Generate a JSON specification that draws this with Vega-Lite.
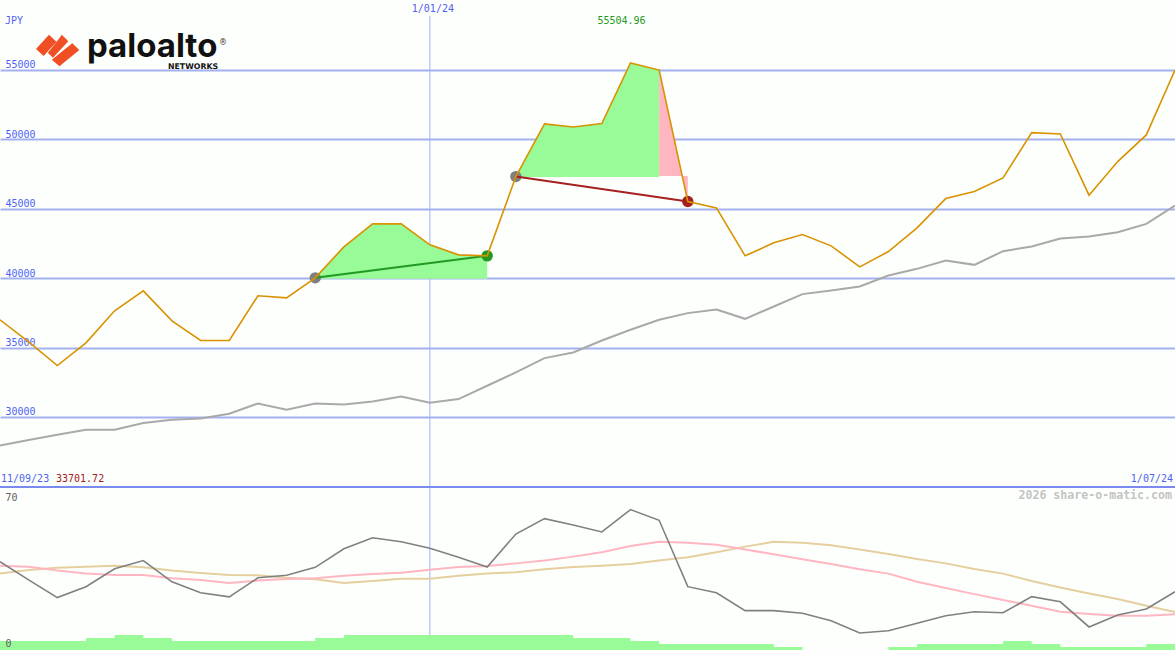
{
  "$schema": "https://vega.github.io/schema/vega-lite/v6.json",
  "description": "Palo Alto Networks weekly price in JPY with trades, and an oscillator panel below",
  "background": "#fdfffd",
  "padding": {"left": -4, "top": 0, "right": 0, "bottom": 0},
  "spacing": 0,
  "bounds": "flush",
  "datasets": {
    "weeks": [
      {"date":"2023-09-18","price":37000,"ma":27950,"osc":37.9,"fast":36.2,"slow":32.8,"vol":3.9},
      {"date":"2023-09-25","price":35416,"ma":28338,"osc":30.1,"fast":35.8,"slow":34.4,"vol":3.9},
      {"date":"2023-10-02","price":33702,"ma":28720,"osc":22.5,"fast":34.1,"slow":35.3,"vol":3.9},
      {"date":"2023-10-09","price":35344,"ma":29080,"osc":27.2,"fast":32.9,"slow":35.8,"vol":5.2},
      {"date":"2023-10-16","price":37648,"ma":29080,"osc":34.9,"fast":32.2,"slow":36.2,"vol":6.4},
      {"date":"2023-10-23","price":39088,"ma":29562,"osc":38.4,"fast":32.2,"slow":35.5,"vol":5.2},
      {"date":"2023-10-30","price":36928,"ma":29800,"osc":29.3,"fast":30.8,"slow":34.1,"vol":3.9},
      {"date":"2023-11-06","price":35510,"ma":29894,"osc":24.6,"fast":30.1,"slow":33.1,"vol":3.9},
      {"date":"2023-11-13","price":35510,"ma":30232,"osc":22.8,"fast":28.8,"slow":32.2,"vol":3.9},
      {"date":"2023-11-20","price":38728,"ma":30974,"osc":31.0,"fast":29.8,"slow":32.1,"vol":3.9},
      {"date":"2023-11-27","price":38584,"ma":30520,"osc":32.1,"fast":30.5,"slow":31.0,"vol":3.9},
      {"date":"2023-12-04","price":40024,"ma":30974,"osc":35.5,"fast":30.8,"slow":30.4,"vol":5.2},
      {"date":"2023-12-11","price":42256,"ma":30902,"osc":43.5,"fast":31.9,"slow":28.8,"vol":6.4},
      {"date":"2023-12-18","price":43912,"ma":31118,"osc":48.2,"fast":32.6,"slow":29.6,"vol":6.4},
      {"date":"2023-12-25","price":43912,"ma":31478,"osc":46.5,"fast":33.2,"slow":30.6,"vol":6.4},
      {"date":"2024-01-01","price":42400,"ma":31024,"osc":43.7,"fast":34.5,"slow":30.6,"vol":6.4},
      {"date":"2024-01-08","price":41680,"ma":31290,"osc":39.8,"fast":35.6,"slow":31.9,"vol":6.4},
      {"date":"2024-01-15","price":41608,"ma":32248,"osc":35.6,"fast":36.1,"slow":32.8,"vol":6.4},
      {"date":"2024-01-22","price":47318,"ma":33206,"osc":49.8,"fast":37.2,"slow":33.4,"vol":6.4},
      {"date":"2024-01-29","price":51112,"ma":34242,"osc":56.4,"fast":38.4,"slow":34.7,"vol":6.4},
      {"date":"2024-02-05","price":50896,"ma":34646,"osc":53.7,"fast":40.1,"slow":35.6,"vol":5.2},
      {"date":"2024-02-12","price":51134,"ma":35510,"osc":50.7,"fast":42.0,"slow":36.2,"vol":5.2},
      {"date":"2024-02-19","price":55505,"ma":36280,"osc":60.3,"fast":44.7,"slow":36.9,"vol":3.9},
      {"date":"2024-02-26","price":54990,"ma":37000,"osc":55.7,"fast":46.5,"slow":38.4,"vol":2.6},
      {"date":"2024-03-04","price":45518,"ma":37482,"osc":27.2,"fast":46.1,"slow":39.8,"vol":2.6},
      {"date":"2024-03-11","price":45064,"ma":37742,"osc":24.6,"fast":45.2,"slow":42.0,"vol":2.6},
      {"date":"2024-03-18","price":41608,"ma":37072,"osc":16.9,"fast":43.2,"slow":44.4,"vol":2.6},
      {"date":"2024-03-25","price":42544,"ma":37958,"osc":16.9,"fast":41.1,"slow":46.5,"vol":1.3},
      {"date":"2024-04-01","price":43142,"ma":38850,"osc":15.8,"fast":39.0,"slow":46.1,"vol":0},
      {"date":"2024-04-08","price":42328,"ma":39110,"osc":12.6,"fast":36.9,"slow":45.0,"vol":0},
      {"date":"2024-04-15","price":40816,"ma":39398,"osc":7.3,"fast":34.7,"slow":43.2,"vol":0},
      {"date":"2024-04-22","price":41918,"ma":40190,"osc":8.3,"fast":32.8,"slow":41.2,"vol":1.3},
      {"date":"2024-04-29","price":43624,"ma":40672,"osc":11.5,"fast":29.3,"slow":39.1,"vol":2.6},
      {"date":"2024-05-06","price":45734,"ma":41270,"osc":14.7,"fast":26.6,"slow":37.2,"vol":2.6},
      {"date":"2024-05-13","price":46238,"ma":40960,"osc":16.4,"fast":24.0,"slow":34.8,"vol":2.6},
      {"date":"2024-05-20","price":47224,"ma":41946,"osc":16.0,"fast":21.5,"slow":32.8,"vol":3.9},
      {"date":"2024-05-27","price":50486,"ma":42278,"osc":22.9,"fast":19.0,"slow":29.6,"vol":2.6},
      {"date":"2024-06-03","price":50392,"ma":42854,"osc":20.7,"fast":16.4,"slow":26.8,"vol":1.3},
      {"date":"2024-06-10","price":45978,"ma":42998,"osc":9.9,"fast":15.5,"slow":24.3,"vol":1.3},
      {"date":"2024-06-17","price":48398,"ma":43314,"osc":15.0,"fast":14.7,"slow":21.9,"vol":1.3},
      {"date":"2024-06-24","price":50320,"ma":43912,"osc":17.6,"fast":14.7,"slow":19.0,"vol":2.6},
      {"date":"2024-07-01","price":55000,"ma":45230,"osc":25.0,"fast":15.3,"slow":16.3,"vol":2.6}
    ],
    "gains": [
      {"trade":1,"date":"2023-12-04","price":40024,"base":39960},
      {"trade":1,"date":"2023-12-11","price":42256,"base":39960},
      {"trade":1,"date":"2023-12-18","price":43912,"base":39960},
      {"trade":1,"date":"2023-12-25","price":43912,"base":39960},
      {"trade":1,"date":"2024-01-01","price":42400,"base":39960},
      {"trade":1,"date":"2024-01-08","price":41680,"base":39960},
      {"trade":1,"date":"2024-01-15","price":41608,"base":39960},
      {"trade":2,"date":"2024-01-22","price":47318,"base":47290},
      {"trade":2,"date":"2024-01-29","price":51112,"base":47290},
      {"trade":2,"date":"2024-02-05","price":50896,"base":47290},
      {"trade":2,"date":"2024-02-12","price":51134,"base":47290},
      {"trade":2,"date":"2024-02-19","price":55505,"base":47290},
      {"trade":2,"date":"2024-02-26","price":54990,"base":47290}
    ],
    "losses": [
      {"date":"2024-02-26","price":54990,"base":47360},
      {"date":"2024-03-04","price":45518,"base":47360}
    ],
    "trades": [
      {"trade":"up","date":"2023-12-04","price":40024},
      {"trade":"up","date":"2024-01-15","price":41608},
      {"trade":"down","date":"2024-01-22","price":47318},
      {"trade":"down","date":"2024-03-04","price":45518}
    ]
  },
  "vconcat": [
    {
      "width": 1175,
      "height": 487,
      "encoding": {
        "x": {
          "field": "date",
          "type": "temporal",
          "scale": {"type": "utc", "domain": ["2023-09-18", "2024-07-01"]},
          "axis": null
        }
      },
      "layer": [
        {
          "data": {"values": [{"date": "2024-01-01", "value": 58888, "low": 24955}]},
          "mark": {"type": "rule", "color": "#a3b1f0", "strokeWidth": 1},
          "encoding": {
            "y": {
              "field": "value",
              "type": "quantitative",
              "title": null,
              "scale": {"domain": [24955, 60040], "nice": false, "zero": false},
              "axis": {
                "values": [30000, 35000, 40000, 45000, 50000, 55000],
                "format": "d",
                "grid": true,
                "gridColor": "#a3b1f0",
                "gridWidth": 2,
                "gridOpacity": 1,
                "labelColor": "#4f62f2",
                "labelBaseline": "alphabetic",
                "labelOffset": -2
              }
            },
            "y2": {"field": "low"}
          }
        },
        {
          "data": {"name": "gains"},
          "mark": {"type": "area", "color": "#98fb98", "opacity": 1},
          "encoding": {
            "detail": {"field": "trade"},
            "y": {"field": "price", "type": "quantitative", "title": null},
            "y2": {"field": "base"}
          }
        },
        {
          "data": {"name": "losses"},
          "mark": {"type": "area", "color": "#ffb6c1", "opacity": 1},
          "encoding": {
            "y": {"field": "price", "type": "quantitative", "title": null},
            "y2": {"field": "base"}
          }
        },
        {
          "data": {"name": "weeks"},
          "mark": {"type": "line", "color": "#a9a9a9", "strokeWidth": 2},
          "encoding": {"y": {"field": "ma", "type": "quantitative", "title": null}}
        },
        {
          "data": {"values": [
            {"date": "2023-12-04", "price": 40024},
            {"date": "2024-01-22", "price": 47318}
          ]},
          "mark": {"type": "point", "filled": true, "size": 130, "color": "#808080", "opacity": 1},
          "encoding": {"y": {"field": "price", "type": "quantitative", "title": null}}
        },
        {
          "data": {"values": [{"date": "2024-01-15", "price": 41608}]},
          "mark": {"type": "point", "filled": true, "size": 130, "color": "#229922", "opacity": 1},
          "encoding": {"y": {"field": "price", "type": "quantitative", "title": null}}
        },
        {
          "data": {"values": [{"date": "2024-03-04", "price": 45518}]},
          "mark": {"type": "point", "filled": true, "size": 130, "color": "#a52020", "opacity": 1},
          "encoding": {"y": {"field": "price", "type": "quantitative", "title": null}}
        },
        {
          "data": {"name": "trades"},
          "transform": [{"filter": "datum.trade == 'up'"}],
          "mark": {"type": "line", "color": "#229922", "strokeWidth": 2},
          "encoding": {"y": {"field": "price", "type": "quantitative", "title": null}}
        },
        {
          "data": {"name": "trades"},
          "transform": [{"filter": "datum.trade == 'down'"}],
          "mark": {"type": "line", "color": "#a52020", "strokeWidth": 2},
          "encoding": {"y": {"field": "price", "type": "quantitative", "title": null}}
        },
        {
          "data": {"name": "weeks"},
          "mark": {"type": "line", "color": "#d99200", "strokeWidth": 1.6},
          "encoding": {"y": {"field": "price", "type": "quantitative", "title": null}}
        },
        {
          "data": {"values": [{"date": "2023-10-02", "value": 56404}]},
          "mark": {
            "type": "point",
            "filled": true,
            "opacity": 1,
            "size": 1936,
            "color": "#f04e23",
            "shape": "M-.97-.07L-.38-.72L-.04-.4L-.62.25ZM.05-.5L.2-.72L.5-.42L-.2.33L-.43.1ZM-.25.42L.68-.33L1-.02L.1.72Z"
          },
          "encoding": {"y": {"field": "value", "type": "quantitative", "title": null}}
        },
        {
          "data": {"values": [{"date": "2023-09-18", "value": 55936, "label": "paloalto"}]},
          "mark": {"type": "text", "align": "left", "baseline": "alphabetic", "dx": 87, "font": "Inter", "fontWeight": 700, "fontSize": 33, "color": "#111111"},
          "encoding": {
            "y": {"field": "value", "type": "quantitative", "title": null},
            "text": {"field": "label"}
          }
        },
        {
          "data": {"values": [{"date": "2023-09-18", "value": 55072, "label": "NETWORKS"}]},
          "mark": {"type": "text", "align": "left", "baseline": "alphabetic", "dx": 168, "font": "DejaVu Sans", "fontWeight": 700, "fontSize": 7.8, "color": "#111111"},
          "encoding": {
            "y": {"field": "value", "type": "quantitative", "title": null},
            "text": {"field": "label"}
          }
        },
        {
          "data": {"values": [{"date": "2023-09-18", "value": 56944, "label": "®"}]},
          "mark": {"type": "text", "align": "left", "baseline": "middle", "dx": 219, "font": "DejaVu Sans", "fontSize": 8, "color": "#333333"},
          "encoding": {
            "y": {"field": "value", "type": "quantitative", "title": null},
            "text": {"field": "label"}
          }
        },
        {
          "data": {"values": [{"date": "2023-09-18", "value": 58528, "label": "JPY"}]},
          "mark": {"type": "text", "align": "left", "baseline": "middle", "dx": 5, "font": "DejaVu Sans Mono", "fontSize": 10, "color": "#4f62f2"},
          "encoding": {
            "y": {"field": "value", "type": "quantitative", "title": null},
            "text": {"field": "label"}
          }
        },
        {
          "data": {"values": [{"date": "2024-01-01", "value": 59392, "label": "1/01/24"}]},
          "mark": {"type": "text", "align": "center", "baseline": "middle", "dx": 3, "font": "DejaVu Sans Mono", "fontSize": 10, "color": "#4f62f2"},
          "encoding": {
            "y": {"field": "value", "type": "quantitative", "title": null},
            "text": {"field": "label"}
          }
        },
        {
          "data": {"values": [{"date": "2024-02-19", "value": 58528, "label": "55504.96"}]},
          "mark": {"type": "text", "align": "center", "baseline": "middle", "dx": -9, "font": "DejaVu Sans Mono", "fontSize": 10, "color": "#229922"},
          "encoding": {
            "y": {"field": "value", "type": "quantitative", "title": null},
            "text": {"field": "label"}
          }
        },
        {
          "data": {"values": [{"date": "2023-09-18", "value": 25532, "label": "11/09/23"}]},
          "mark": {"type": "text", "align": "left", "baseline": "middle", "dx": 1, "font": "DejaVu Sans Mono", "fontSize": 10, "color": "#4f62f2"},
          "encoding": {
            "y": {"field": "value", "type": "quantitative", "title": null},
            "text": {"field": "label"}
          }
        },
        {
          "data": {"values": [{"date": "2023-09-18", "value": 25532, "label": "33701.72"}]},
          "mark": {"type": "text", "align": "left", "baseline": "middle", "dx": 56, "font": "DejaVu Sans Mono", "fontSize": 10, "color": "#a52020"},
          "encoding": {
            "y": {"field": "value", "type": "quantitative", "title": null},
            "text": {"field": "label"}
          }
        },
        {
          "data": {"values": [{"date": "2024-07-01", "value": 25532, "label": "1/07/24"}]},
          "mark": {"type": "text", "align": "right", "baseline": "middle", "dx": -2, "font": "DejaVu Sans Mono", "fontSize": 10, "color": "#4f62f2"},
          "encoding": {
            "y": {"field": "value", "type": "quantitative", "title": null},
            "text": {"field": "label"}
          }
        }
      ]
    },
    {
      "width": 1175,
      "height": 163,
      "encoding": {
        "x": {
          "field": "date",
          "type": "temporal",
          "scale": {"type": "utc", "domain": ["2023-09-18", "2024-07-01"]},
          "axis": null
        }
      },
      "layer": [
        {
          "data": {"values": [{"date": "2024-01-01", "value": 70, "low": 6.4}]},
          "mark": {"type": "rule", "color": "#a3b1f0", "strokeWidth": 1},
          "encoding": {
            "y": {
              "field": "value",
              "type": "quantitative",
              "title": null,
              "scale": {"domain": [0, 70], "nice": false},
              "axis": {
                "values": [0, 70],
                "grid": false,
                "zindex": 1,
                "labelColor": "#606060",
                "labelBaseline": "alphabetic",
                "labelOffset": {"expr": "datum.value > 35 ? 13 : -4"}
              }
            },
            "y2": {"field": "low"}
          }
        },
        {
          "data": {"values": [{"date": "2023-09-18", "end": "2024-07-01", "value": 70}]},
          "mark": {"type": "rule", "color": "#7b8aee", "strokeWidth": 2},
          "encoding": {
            "x2": {"field": "end"},
            "y": {"field": "value", "type": "quantitative", "title": null}
          }
        },
        {
          "data": {"name": "weeks"},
          "mark": {"type": "area", "interpolate": "step-after", "color": "#98fb98", "opacity": 1},
          "encoding": {"y": {"field": "vol", "type": "quantitative", "stack": null, "title": null}}
        },
        {
          "data": {"name": "weeks"},
          "mark": {"type": "line", "color": "#e6cf9f", "strokeWidth": 2},
          "encoding": {"y": {"field": "slow", "type": "quantitative", "title": null}}
        },
        {
          "data": {"name": "weeks"},
          "mark": {"type": "line", "color": "#ffb6c1", "strokeWidth": 2},
          "encoding": {"y": {"field": "fast", "type": "quantitative", "title": null}}
        },
        {
          "data": {"name": "weeks"},
          "mark": {"type": "line", "color": "#808080", "strokeWidth": 1.6},
          "encoding": {"y": {"field": "osc", "type": "quantitative", "title": null}}
        },
        {
          "data": {"values": [{"date": "2024-07-01", "value": 66.1, "label": "2026 share-o-matic.com"}]},
          "mark": {"type": "text", "align": "right", "baseline": "middle", "dx": -3, "font": "DejaVu Sans Mono", "fontWeight": 700, "fontSize": 11.6, "color": "#c4c4c4"},
          "encoding": {
            "y": {"field": "value", "type": "quantitative", "title": null},
            "text": {"field": "label"}
          }
        }
      ]
    }
  ],
  "config": {
    "view": {"stroke": null},
    "axisY": {
      "domain": false,
      "ticks": false,
      "tickSize": 0,
      "minExtent": 0,
      "maxExtent": 0,
      "titlePadding": 0,
      "labelAlign": "left",
      "labelPadding": -5,
      "labelFont": "DejaVu Sans Mono",
      "labelFontSize": 10
    }
  }
}
